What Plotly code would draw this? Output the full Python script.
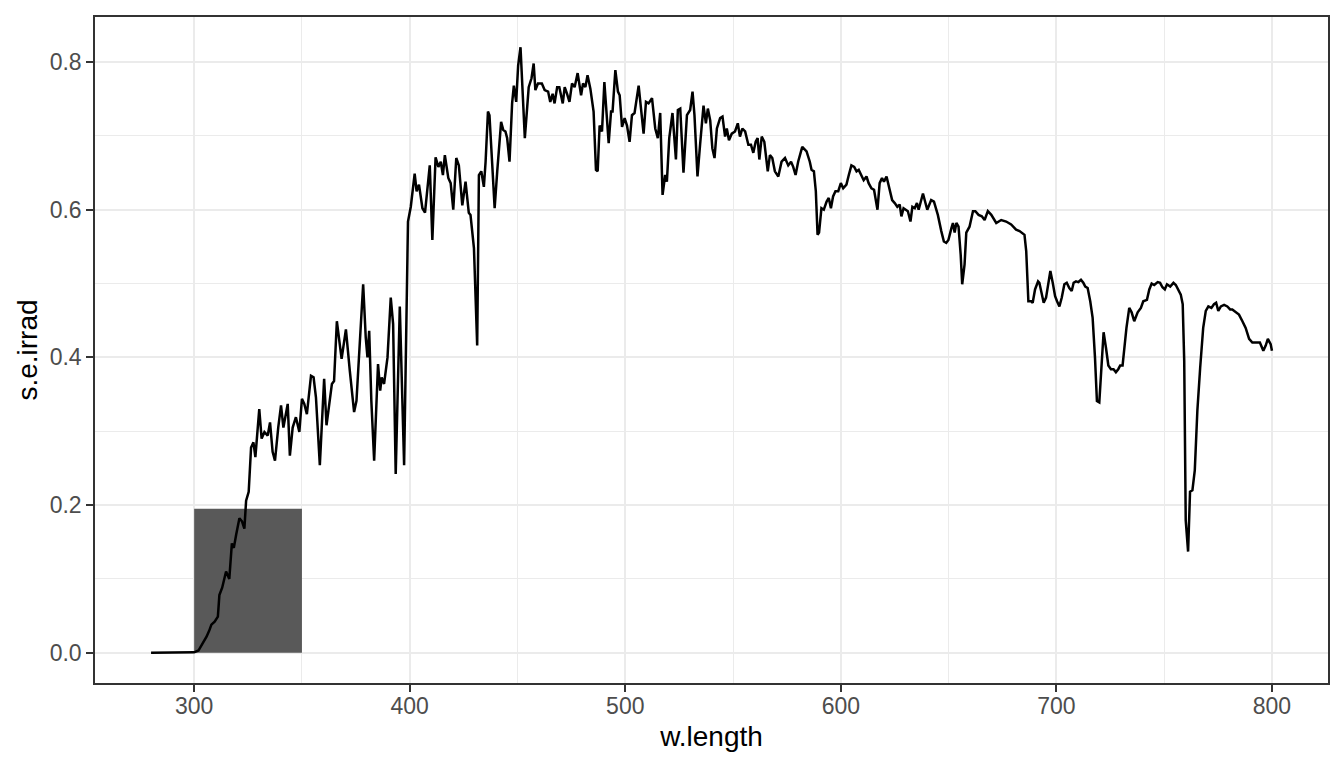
import plotly.graph_objects as go

# Wavelength (nm) and spectral energy irradiance
w_length = [
    280, 290, 298, 300, 302, 303.2, 304.5, 305.8, 307, 308, 309.5, 311, 311.7, 313, 314.8, 316.3,
    317.5, 318.4, 319.5, 321, 322.2, 323.3, 324.1, 325.3, 326.4, 327.5, 328.4, 330.2, 331.3, 332.6,
    334.1, 335.2, 336.4, 337.5, 339, 340.3, 341.4, 343.4, 344.4, 345.7, 347.2, 348.8, 350, 351.1,
    352.3, 354.2, 355.4, 356.5, 358.3, 360.3, 361.4, 362.6, 363.9, 364.9, 366.2, 368.4, 370.4, 372.2,
    374.2, 375.3, 376.5, 378.4, 379.6, 380.4, 381.2, 382.2, 383.5, 385.3, 386.3, 387, 388.1, 389.7,
    391.2, 392.3, 393.5, 395.4, 397.4, 398.5, 399.2, 400.5, 402.3, 403.2, 404.3, 405.9, 407.1, 409.3,
    410.5, 412, 413.3, 414.4, 415.4, 416.3, 417.9, 419, 420.2, 421.6, 422.8, 424.4, 425.9, 427.4,
    428.2, 429.8, 430.6, 431.3, 432.1, 433.2, 434.4, 435.2, 436.3, 437, 438.3, 439.4, 440.6, 442.4,
    443.4, 444.4, 445.2, 446.3, 447.5, 448.3, 449.4, 450.3, 451.4, 452.2, 453.4, 454.5, 455.2, 456.5,
    457.5, 458.3, 459.5, 461.3, 462.6, 464.2, 465.2, 466.3, 467.2, 468.4, 469.4, 471, 471.9, 473,
    474.1, 475.3, 476.5, 477.9, 479.5, 480.4, 481.5, 482.5, 483.8, 485.3, 486.4, 487.2, 488.1, 489.2,
    490.3, 492.3, 493.4, 494.1, 495.4, 496.6, 497.4, 498.5, 499.7, 500.8, 502, 503.1, 504.3, 506.2,
    507.4, 508.5, 509.6, 510.8, 512.4, 513.9, 515.1, 516.2, 517.3, 518.5, 519.3, 520.4, 521.9, 523.5,
    524.4, 525.5, 527, 528.6, 530.1, 531.2, 532.1, 533.5, 534.7, 536.3, 537.4, 538.3, 539.4, 540.4,
    541.4, 542.5, 544, 545.1, 546.3, 547.1, 548.1, 549.4, 550.9, 552.2, 553.2, 554.3, 555.6, 557.1,
    558.3, 559.4, 560.5, 561.4, 562.2, 563.3, 564.5, 566.1, 567.1, 568.2, 569.4, 571, 572.5, 574.1,
    575.6, 576.9, 577.9, 579, 580.2, 582.1, 584.1, 585.6, 586.4, 587.5, 588.4, 589.2, 589.9, 591,
    592.1, 593.4, 594.4, 595.4, 596.4, 597.5, 598.8, 600, 601.1, 602.6, 603.7, 604.9, 606.2, 607.3,
    608.3, 609.6, 610.6, 611.9, 612.9, 614.2, 615.4, 617, 618, 619.1, 620, 621.2, 622.4, 623.8,
    625, 626.2, 627.3, 628.1, 629.1, 630.4, 631.1, 632.3, 633.2, 634.3, 635.3, 636.1, 638.1, 640.1,
    641.9, 643.2, 645, 646.6, 647.8, 648.9, 649.9, 651.3, 652, 652.8, 653.6, 654.6, 655.6, 656.3,
    657.4, 658.2, 659.7, 661.3, 662.4, 663.9, 665.4, 666.7, 668.2, 669.8, 672.1, 674.4, 676.7, 679,
    681.3, 682.9, 685.2, 686, 687, 688.3, 689, 690.1, 691.5, 692.1, 693.2, 694.1, 695.2, 696.3,
    697.2, 698.3, 699.4, 700.3, 701.4, 702.5, 703.7, 704.8, 706, 707.1, 708, 709.1, 710.2, 711.4,
    712.5, 713.4, 714.5, 715.7, 716.8, 717.9, 718.8, 719.9, 720.7, 721.9, 723, 724.1, 725.3, 726.5,
    727.6, 728.7, 729.6, 730.7, 732.5, 733.8, 734.9, 736.1, 737.7, 739.2, 740.3, 742, 743.1, 744.2,
    745.4, 747, 748.1, 749.2, 750.3, 751.3, 752.8, 754.3, 755.4, 756.5, 757.7, 758.6, 759.3, 760,
    761.1, 762, 763.1, 764.2, 765.4, 766.7, 768.1, 769.3, 770.5, 771.9, 773.1, 774.1, 775.1, 776.3,
    777.8, 779.3, 780.6, 781.6, 783.2, 784.7, 786.3, 787.8, 789.4, 790.9, 792.9, 794.4, 796, 797.1,
    798.1, 799.4, 800,
]

s_e_irrad = [
    0, 0, 0, 0.0005, 0.003, 0.0085, 0.015, 0.022, 0.030, 0.038, 0.042, 0.049, 0.078, 0.088, 0.110, 0.100,
    0.148, 0.142, 0.160, 0.182, 0.178, 0.168, 0.206, 0.218, 0.278, 0.285, 0.265, 0.330, 0.290, 0.299,
    0.294, 0.312, 0.272, 0.260, 0.305, 0.335, 0.305, 0.337, 0.267, 0.305, 0.319, 0.299, 0.344, 0.337,
    0.323, 0.375, 0.373, 0.346, 0.254, 0.371, 0.308, 0.337, 0.364, 0.368, 0.449, 0.398, 0.438, 0.382,
    0.326, 0.341, 0.400, 0.499, 0.427, 0.400, 0.436, 0.341, 0.260, 0.391, 0.355, 0.373, 0.364, 0.400,
    0.481, 0.445, 0.242, 0.469, 0.254, 0.499, 0.584, 0.604, 0.649, 0.625, 0.634, 0.602, 0.596, 0.660,
    0.559, 0.671, 0.658, 0.665, 0.647, 0.674, 0.643, 0.636, 0.600, 0.670, 0.660, 0.606, 0.638, 0.596,
    0.593, 0.548, 0.471, 0.416, 0.647, 0.652, 0.631, 0.665, 0.733, 0.728, 0.660, 0.602, 0.652, 0.719,
    0.708, 0.706, 0.697, 0.665, 0.744, 0.768, 0.746, 0.795, 0.820, 0.778, 0.697, 0.739, 0.766, 0.778,
    0.798, 0.762, 0.771, 0.771, 0.762, 0.760, 0.746, 0.757, 0.744, 0.766, 0.766, 0.744, 0.766, 0.757,
    0.746, 0.771, 0.766, 0.785, 0.755, 0.771, 0.766, 0.782, 0.764, 0.733, 0.654, 0.652, 0.714, 0.706,
    0.773, 0.690, 0.733, 0.733, 0.789, 0.760, 0.755, 0.712, 0.724, 0.714, 0.692, 0.728, 0.731, 0.768,
    0.737, 0.703, 0.746, 0.744, 0.751, 0.710, 0.697, 0.731, 0.620, 0.647, 0.638, 0.697, 0.731, 0.668,
    0.735, 0.737, 0.650, 0.728, 0.735, 0.760, 0.728, 0.645, 0.688, 0.741, 0.717, 0.737, 0.721, 0.683,
    0.670, 0.710, 0.724, 0.726, 0.699, 0.710, 0.694, 0.703, 0.706, 0.717, 0.699, 0.710, 0.706, 0.688,
    0.688, 0.677, 0.692, 0.697, 0.668, 0.699, 0.692, 0.652, 0.674, 0.670, 0.652, 0.645, 0.665, 0.670,
    0.660, 0.665, 0.658, 0.647, 0.665, 0.685, 0.679, 0.665, 0.654, 0.652, 0.625, 0.566, 0.569, 0.602,
    0.600, 0.611, 0.616, 0.602, 0.618, 0.625, 0.625, 0.636, 0.629, 0.634, 0.647, 0.660, 0.658, 0.652,
    0.654, 0.647, 0.640, 0.645, 0.636, 0.629, 0.627, 0.600, 0.636, 0.643, 0.638, 0.645, 0.631, 0.613,
    0.609, 0.604, 0.607, 0.591, 0.602, 0.600, 0.598, 0.584, 0.604, 0.602, 0.609, 0.600, 0.622, 0.600,
    0.613, 0.611, 0.593, 0.571, 0.557, 0.555, 0.559, 0.575, 0.582, 0.569, 0.582, 0.577, 0.539, 0.499,
    0.526, 0.569, 0.577, 0.598, 0.598, 0.593, 0.591, 0.586, 0.598, 0.593, 0.582, 0.586, 0.584, 0.580,
    0.573, 0.571, 0.566, 0.544, 0.476, 0.476, 0.474, 0.492, 0.503, 0.501, 0.485, 0.474, 0.481, 0.499,
    0.517, 0.501, 0.483, 0.476, 0.469, 0.481, 0.499, 0.501, 0.494, 0.490, 0.501, 0.503, 0.502, 0.505,
    0.501, 0.496, 0.494, 0.476, 0.454, 0.400, 0.341, 0.339, 0.373, 0.434, 0.413, 0.389, 0.384, 0.384,
    0.380, 0.384, 0.389, 0.389, 0.440, 0.467, 0.461, 0.449, 0.461, 0.467, 0.476, 0.478, 0.492, 0.500,
    0.498, 0.502, 0.501, 0.495, 0.492, 0.499, 0.496, 0.501, 0.498, 0.492, 0.485, 0.472, 0.395, 0.179,
    0.137, 0.218, 0.220, 0.247, 0.328, 0.386, 0.440, 0.463, 0.469, 0.467, 0.472, 0.474, 0.463, 0.469,
    0.471, 0.469, 0.465, 0.465, 0.461, 0.458, 0.449, 0.440, 0.425, 0.420, 0.420, 0.420, 0.409, 0.416,
    0.425, 0.418, 0.409,
]

# Highlighted band (rectangle)
rect_x = [300, 350]
rect_y = [0, 0.195]

x_ticks = [300, 400, 500, 600, 700, 800]
x_minor = [250, 350, 450, 550, 650, 750]
y_ticks = [0.0, 0.2, 0.4, 0.6, 0.8]
y_tick_labels = ["0.0", "0.2", "0.4", "0.6", "0.8"]
y_minor = [0.1, 0.3, 0.5, 0.7]

fig = go.Figure()

fig.add_trace(go.Scatter(
    x=[rect_x[0], rect_x[1], rect_x[1], rect_x[0], rect_x[0]],
    y=[rect_y[0], rect_y[0], rect_y[1], rect_y[1], rect_y[0]],
    fill="toself", fillcolor="#595959", mode="none", hoverinfo="skip", showlegend=False,
))

fig.add_trace(go.Scatter(
    x=w_length, y=s_e_irrad, mode="lines",
    line=dict(color="black", width=2.5), showlegend=False,
))

FONT = "Liberation Sans, Arial, sans-serif"
grid = "#EBEBEB"

# The page body has an 8px margin; the figure is sized so the plot lands where the reference has it.
fig.update_layout(
    width=1336, height=760,
    margin=dict(l=87, r=16, t=7, b=85),
    paper_bgcolor="white", plot_bgcolor="white",
    font=dict(family=FONT, color="#4D4D4D", size=23),
    showlegend=False,
)

fig.update_xaxes(
    range=[254, 826], tickmode="array", tickvals=x_ticks,
    ticks="outside", ticklen=7, tickwidth=2, tickcolor="#333333",
    tickfont=dict(family=FONT, size=23, color="#4D4D4D"),
    ticklabelstandoff=-5,
    showgrid=True, gridcolor=grid, gridwidth=2,
    minor=dict(tickvals=x_minor, showgrid=True, gridcolor=grid, gridwidth=1, ticklen=0),
    showline=True, linecolor="#333333", linewidth=1.5, mirror=True,
    zeroline=False,
    title=dict(text="w.length", font=dict(family=FONT, size=28, color="black"), standoff=8),
)
fig.update_yaxes(
    range=[-0.041, 0.861], tickmode="array", tickvals=y_ticks, ticktext=y_tick_labels,
    ticks="outside", ticklen=7, tickwidth=2, tickcolor="#333333",
    tickfont=dict(family=FONT, size=23, color="#4D4D4D"),
    showgrid=True, gridcolor=grid, gridwidth=2,
    minor=dict(tickvals=y_minor, showgrid=True, gridcolor=grid, gridwidth=1, ticklen=0),
    showline=True, linecolor="#333333", linewidth=1.5, mirror=True,
    zeroline=False,
    title=dict(text="s.e.irrad", font=dict(family=FONT, size=28, color="black"), standoff=4),
)

fig.write_html("out.html")
